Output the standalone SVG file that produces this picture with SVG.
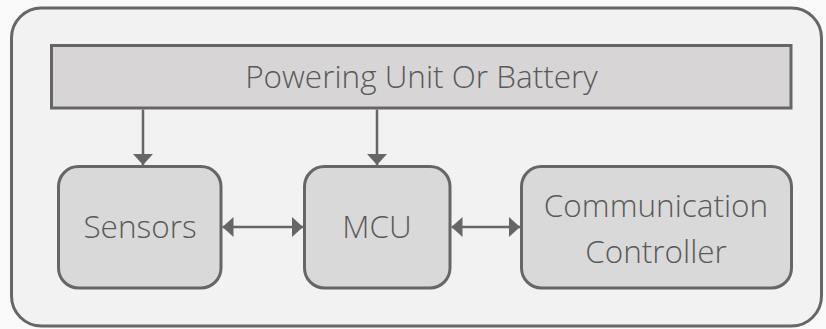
<svg xmlns="http://www.w3.org/2000/svg" width="826" height="329" viewBox="0 0 826 329">
<style>
.box{fill:#d9d9d9;stroke:#666;stroke-width:3}
.lbl{font-family:"Open Sans","Noto Sans",sans-serif;font-weight:300;font-size:31.5px;fill:#595959;text-anchor:middle}
.con{stroke:#666;stroke-width:2.5;fill:none}
</style>
<defs>
<marker id="ah" viewBox="0 0 11 20" refX="11" refY="10" markerWidth="11" markerHeight="20" markerUnits="userSpaceOnUse" orient="auto-start-reverse">
<path d="M0,0 L11,10 L0,20 Z" fill="#666"/>
</marker>
</defs>
<rect width="826" height="329" fill="#faf9f9"/>
<g id="container">
<rect x="11.5" y="8" width="810" height="318" rx="30" ry="30" fill="#f2f2f2" stroke="#666" stroke-width="3"/>
</g>
<g id="power">
<rect x="51.5" y="45.5" width="739.5" height="62.5" fill="#d7d5d6" stroke="#666" stroke-width="3"/>
<text class="lbl" x="421.5" y="87.5">Powering Unit Or Battery</text>
</g>
<g id="sensors">
<rect class="box" x="58.5" y="166.5" width="162.5" height="121.5" rx="20" ry="20"/>
<text class="lbl" x="140" y="237.5">Sensors</text>
</g>
<g id="mcu">
<rect class="box" x="304.5" y="166.5" width="145.5" height="121.5" rx="20" ry="20"/>
<text class="lbl" x="377" y="237.5">MCU</text>
</g>
<g id="comm">
<rect class="box" x="521.5" y="166.5" width="270" height="121.5" rx="20" ry="20"/>
<text class="lbl" x="656" y="216.5">Communication</text>
<text class="lbl" x="656" y="262.5">Controller</text>
</g>
<g id="connectors">
<line class="con" x1="143" y1="109.5" x2="143" y2="165" marker-end="url(#ah)"/>
<line class="con" x1="377" y1="109.5" x2="377" y2="165" marker-end="url(#ah)"/>
<line class="con" x1="222.5" y1="227" x2="303" y2="227" marker-start="url(#ah)" marker-end="url(#ah)"/>
<line class="con" x1="451.5" y1="227" x2="520" y2="227" marker-start="url(#ah)" marker-end="url(#ah)"/>
</g>
</svg>
